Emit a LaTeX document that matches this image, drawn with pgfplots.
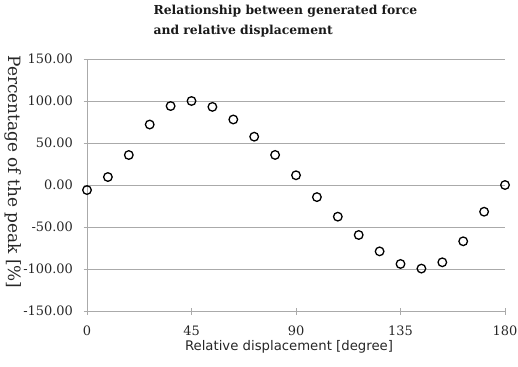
\documentclass[border=0pt]{standalone}
\usepackage{fontspec}
\setmainfont{DejaVu Serif}
\newfontfamily\sansf{DejaVu Sans}
\usepackage{pgfplots}
\pgfplotsset{compat=1.18}
\definecolor{gridc}{RGB}{170,170,170}
\begin{document}
\begin{tikzpicture}[x=1bp,y=1bp]
\useasboundingbox (0,0) rectangle (518,366);
\begin{axis}[
  at={(87bp,55bp)}, anchor=south west,
  scale only axis, width=418bp, height=252bp,
  xmin=0, xmax=180, ymin=-150, ymax=150,
  axis x line*=bottom, axis y line*=left,
  axis line style={gridc, line width=0.9pt},
  xtick={0,45,90,135,180},
  xticklabels={0,45,90,135,180},
  ytick={-150,-100,-50,0,50,100,150},
  yticklabels={-150.00,-100.00,-50.00,0.00,50.00,100.00,150.00},
  ymajorgrids, grid style={gridc, line width=0.9pt},
  tick align=center, major tick length=7bp,
  tick style={gridc, line width=0.9pt},
  ticklabel style={font=\fontsize{13}{15}\selectfont, text=black!85},
  yticklabel style={xshift=-7bp},
  xticklabel style={yshift=-8bp},
  clip=false,
]
\addplot[only marks, mark=o, mark size=4.3bp, mark options={line width=1.3pt, black}] coordinates {
(0,-6) (9,9.5) (18,35.7) (27,72) (36,94) (45,100) (54,93) (63,78) (72,57.5) (81,35.8)
(90,11.6) (99,-14.4) (108,-37.7) (117,-59.5) (126,-79) (135,-94) (144,-99.5) (153,-92)
(162,-67) (171,-31.8) (180,0)
};
\end{axis}
\node[anchor=north west, align=left, font=\fontsize{12.4}{20}\selectfont\bfseries, text=black!90] at (150,364) {Relationship between generated force\\and relative displacement};
\node[rotate=-90, font=\fontsize{17}{19}\selectfont, text=black!85] at (13,194) {Percentage of the peak [\%]};
\node[font=\sansf\fontsize{13.3}{15}\selectfont, text=black!85] at (289,19) {Relative displacement [degree]};
\end{tikzpicture}
\end{document}
